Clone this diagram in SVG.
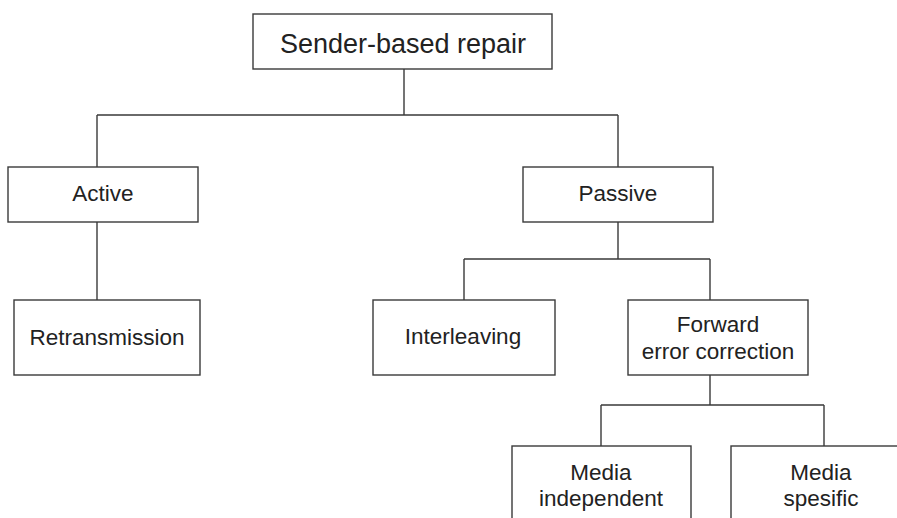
<svg xmlns="http://www.w3.org/2000/svg" width="897" height="518" viewBox="0 0 897 518">
<style>
.box{fill:#fff;stroke:#3a3a3a;stroke-width:1.4}
.lbl{font-family:"Liberation Sans",Arial,sans-serif;font-size:22.5px;fill:#222;text-anchor:middle}
.title{font-size:27px}
.conn{fill:none;stroke:#3a3a3a;stroke-width:1.4}
</style>
<rect width="897" height="518" fill="#fff"/>
<g id="connectors">
<path class="conn" d="M404,69 V115 M97,115 H618 M97,115 V167 M618,115 V167"/>
<path class="conn" d="M97,222 V300"/>
<path class="conn" d="M618,222 V259 M464,259 H710 M464,259 V300 M710,259 V300"/>
<path class="conn" d="M710,375 V405 M601,405 H824 M601,405 V446 M824,405 V446"/>
</g>
<g id="sender-based-repair">
<rect class="box" x="253" y="14" width="299" height="55"/>
<text class="lbl title" x="403" y="53">Sender-based repair</text>
</g>
<g id="active">
<rect class="box" x="8" y="167" width="190" height="55"/>
<text class="lbl" x="103" y="201">Active</text>
</g>
<g id="passive">
<rect class="box" x="523" y="167" width="190" height="55"/>
<text class="lbl" x="618" y="201">Passive</text>
</g>
<g id="retransmission">
<rect class="box" x="14" y="300" width="186" height="75"/>
<text class="lbl" x="107" y="345">Retransmission</text>
</g>
<g id="interleaving">
<rect class="box" x="373" y="300" width="182" height="75"/>
<text class="lbl" x="463" y="344">Interleaving</text>
</g>
<g id="fec">
<rect class="box" x="628" y="300" width="180" height="75"/>
<text class="lbl" x="718" y="332">Forward</text>
<text class="lbl" x="718" y="359">error correction</text>
</g>
<g id="media-independent">
<rect class="box" x="512" y="446" width="179" height="90"/>
<text class="lbl" x="601" y="480">Media</text>
<text class="lbl" x="601" y="506">independent</text>
</g>
<g id="media-specific">
<rect class="box" x="731" y="446" width="190" height="90"/>
<text class="lbl" x="821" y="480">Media</text>
<text class="lbl" x="821" y="506">spesific</text>
</g>
</svg>
